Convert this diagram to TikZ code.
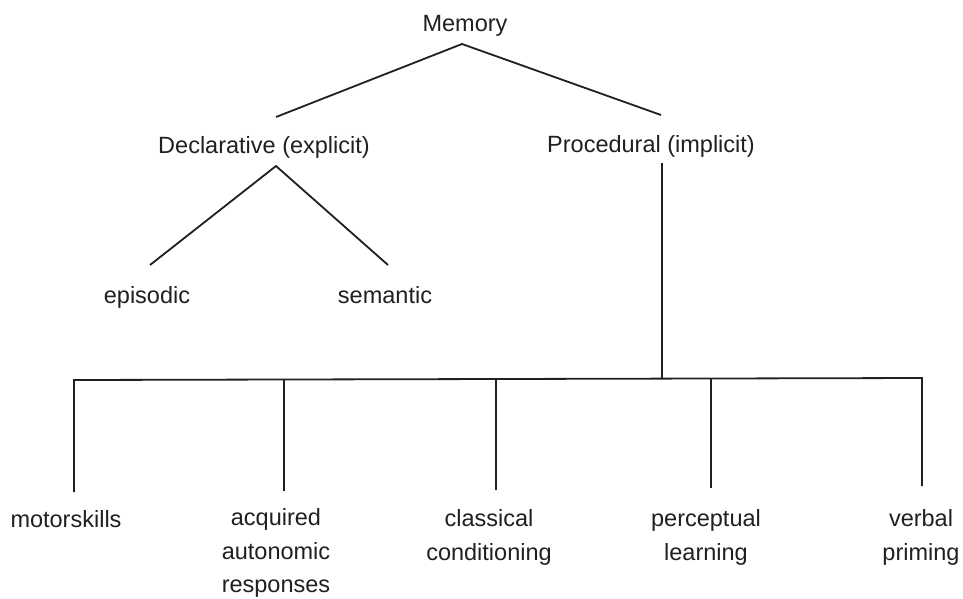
\documentclass[tikz,border=0pt]{standalone}
\usepackage{fontspec}
\setmainfont{Liberation Sans}
\definecolor{ink}{HTML}{202020}
\begin{document}
\begin{tikzpicture}[x=1pt,y=-1pt,
  lbl/.style={font=\fontsize{23.5}{33.5}\selectfont, text=ink, align=center, inner sep=0pt, anchor=base},
  ln/.style={line width=1.8pt, draw=ink}]
\useasboundingbox[fill=white] (0,0) rectangle (963,598);
% labels (multi-line nodes placed by the baseline of their last line)
\node[lbl] (mem) at (465,31) {Memory};
\node[lbl] (decl) at (264,153) {Declarative (explicit)};
\node[lbl] (proc) at (651,152) {Procedural (implicit)};
\node[lbl] (epi) at (147,303) {episodic};
\node[lbl] (sem) at (385,303) {semantic};
\node[lbl] (mot) at (66,527) {motorskills};
\node[lbl] (acq) at (276,592.5) {acquired\\autonomic\\responses};
\node[lbl] (cla) at (489,560) {classical\\conditioning};
\node[lbl] (per) at (706,560) {perceptual\\learning};
\node[lbl] (ver) at (921,560) {verbal\\priming};
% connector ends
\coordinate (memB) at (462,44);
\coordinate (declT) at (276,117);
\coordinate (procT) at (661,115);
\coordinate (declB) at (276,166);
\coordinate (epiT) at (150,265);
\coordinate (semT) at (388,265);
\coordinate (procB) at (662,163);
\coordinate (procJ) at (662,379);
\coordinate (barL) at (74,380);
\coordinate (barR) at (922,378);
\coordinate (motT) at (74,492);
\coordinate (acqJ) at (284,380);
\coordinate (acqT) at (284,491);
\coordinate (claJ) at (496,379);
\coordinate (claT) at (496,490);
\coordinate (perJ) at (711,378);
\coordinate (perT) at (711,488);
\coordinate (verT) at (922,486);
% connectors
\draw[ln] (declT) -- (memB) -- (procT);
\draw[ln] (epiT) -- (declB) -- (semT);
\draw[ln] (procB) -- (procJ);
\draw[ln] (motT) -- (barL) -- (barR) -- (verT);
\draw[ln] (acqJ) -- (acqT);
\draw[ln] (claJ) -- (claT);
\draw[ln] (perJ) -- (perT);
\end{tikzpicture}
\end{document}
